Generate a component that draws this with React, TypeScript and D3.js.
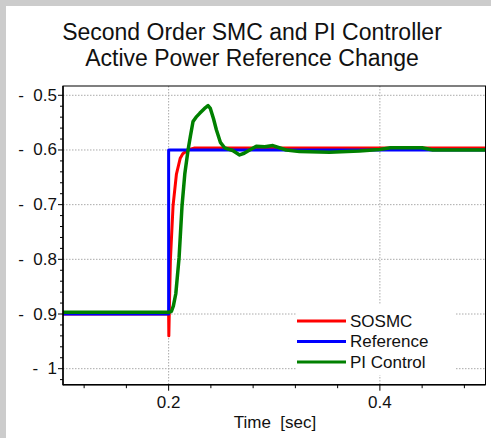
import * as d3 from 'd3';

const W = 491;
const H = 438;

// time [sec], value
const REF_T = [0.1, 0.2, 0.2, 0.5];
const REF_V = [-0.9, -0.9, -0.6, -0.6];

const SMC_T = [0.1, 0.2, 0.2002, 0.2008, 0.2017, 0.2042, 0.2074, 0.211, 0.2134, 0.2181, 0.2247, 0.5];
const SMC_V = [-0.9, -0.9, -0.94, -0.88, -0.8, -0.702, -0.644, -0.615, -0.607, -0.6, -0.5965, -0.5965];

const PI_T = [
  0.1, 0.2, 0.2027, 0.2045, 0.2068, 0.2099, 0.2127, 0.2153, 0.2184, 0.2206, 0.2231, 0.226, 0.2294,
  0.234, 0.2373, 0.2395, 0.2425, 0.2452, 0.249, 0.253, 0.2606, 0.2672, 0.2715, 0.2767, 0.283, 0.291,
  0.2987, 0.3113, 0.3239, 0.3522, 0.3806, 0.4, 0.41, 0.44, 0.45, 0.5,
];
const PI_V = [
  -0.897, -0.897, -0.895, -0.885, -0.863, -0.797, -0.702, -0.644, -0.6, -0.575, -0.548, -0.54, -0.533,
  -0.524, -0.519, -0.524, -0.543, -0.563, -0.586, -0.596, -0.601, -0.609, -0.606, -0.6, -0.593, -0.594,
  -0.592, -0.6, -0.603, -0.604, -0.602, -0.599, -0.596, -0.596, -0.6, -0.6,
];

const X_TICKS = [0.2, 0.4];
const X_MINOR = [0.12, 0.16, 0.24, 0.28, 0.32, 0.36, 0.44, 0.48];
const Y_TICKS = [-0.5, -0.6, -0.7, -0.8, -0.9, -1];
const Y_MINOR = d3.range(-1.02, -0.49, 0.02).filter((v) => Math.abs(v * 10 - Math.round(v * 10)) > 0.01);

const SERIES = [
  { name: 'SOSMC', color: '#ff0000', t: SMC_T, v: SMC_V, w: 3 },
  { name: 'Reference', color: '#0000ff', t: REF_T, v: REF_V, w: 3 },
  { name: 'PI Control', color: '#008000', t: PI_T, v: PI_V, w: 3.5 },
];

const FONT = 'Arial, "Liberation Sans", sans-serif';

export default function App() {
  const left = 63;
  const right = 485.5;
  const top = 86;
  const bottom = 384.7;

  const x = d3.scaleLinear().domain([0.1, 0.5]).range([left, right]);
  const y = d3.scaleLinear().domain([-1.0293, -0.483]).range([bottom, top]);

  const path = (t: number[], v: number[]) =>
    d3
      .line<number>()
      .x((_, i) => x(t[i]))
      .y((_, i) => y(v[i]))(t) ?? '';

  return (
    <svg width={W} height={H} style={{ position: 'absolute', left: 0, top: 0, fontFamily: FONT }}>
      <rect x={0} y={0} width={W} height={H} fill="#cccccc" />
      <rect x={6} y={6} width={W - 6} height={H - 6} fill="#ffffff" />

      <text x={252} y={39.5} textAnchor="middle" fontSize={23} fill="#111">
        Second Order SMC and PI Controller
      </text>
      <text x={252} y={65.5} textAnchor="middle" fontSize={23} fill="#111">
        Active Power Reference Change
      </text>

      <defs>
        <clipPath id="plot">
          <rect x={left} y={top} width={right - left} height={bottom - top} />
        </clipPath>
      </defs>

      {/* grid */}
      <g stroke="#aaaaaa" strokeWidth={1} strokeDasharray="1.5,1.5">
        {X_TICKS.map((d) => (
          <line key={d} x1={x(d)} x2={x(d)} y1={top} y2={bottom} />
        ))}
        {Y_TICKS.map((d) => (
          <line key={d} x1={left} x2={right} y1={y(d)} y2={y(d)} />
        ))}
      </g>

      {/* legend box */}
      <rect x={297} y={305} width={158} height={70} fill="#ffffff" />

      <g clipPath="url(#plot)" fill="none" strokeLinejoin="round">
        {SERIES.map((s) => (
          <path key={s.name} d={path(s.t, s.v)} stroke={s.color} strokeWidth={s.w} />
        ))}
      </g>

      {/* legend */}
      {SERIES.map((s, i) => (
        <g key={s.name}>
          <line x1={297} x2={346} y1={321 + i * 20.5} y2={321 + i * 20.5} stroke={s.color} strokeWidth={3} />
          <text x={350} y={321 + i * 20.5} dominantBaseline="central" fontSize={17} fill="#111">
            {s.name}
          </text>
        </g>
      ))}

      {/* frame */}
      <rect x={left} y={top} width={right - left} height={bottom - top} fill="none" stroke="#000" strokeWidth={1} />
      <line x1={left} x2={left} y1={top} y2={bottom + 0.5} stroke="#000" strokeWidth={1.5} />
      <line x1={left} x2={right} y1={bottom} y2={bottom} stroke="#000" strokeWidth={1.5} />

      {/* ticks */}
      <g stroke="#000" strokeWidth={1}>
        {Y_TICKS.map((d) => (
          <line key={d} x1={left - 5} x2={left} y1={y(d)} y2={y(d)} />
        ))}
        {Y_MINOR.map((d) => (
          <line key={d} x1={left - 3} x2={left} y1={y(d)} y2={y(d)} />
        ))}
        {X_TICKS.map((d) => (
          <line key={d} x1={x(d)} x2={x(d)} y1={bottom} y2={bottom + 6} />
        ))}
        {X_MINOR.map((d) => (
          <line key={d} x1={x(d)} x2={x(d)} y1={bottom} y2={bottom + 3.5} />
        ))}
      </g>

      {Y_TICKS.map((d) => (
        <text
          key={d}
          x={57}
          y={y(d)}
          textAnchor="end"
          dominantBaseline="central"
          fontSize={17}
          fill="#111"
          style={{ whiteSpace: 'pre' }}
        >
          {`-  ${d3.format('')(Math.abs(d))}`}
        </text>
      ))}

      {X_TICKS.map((d) => (
        <text key={d} x={x(d)} y={407.5} textAnchor="middle" fontSize={17} fill="#111">
          {d3.format('.1f')(d)}
        </text>
      ))}

      <text x={275} y={428} textAnchor="middle" fontSize={17} fill="#111" style={{ whiteSpace: 'pre' }}>
        {'Time  [sec]'}
      </text>
    </svg>
  );
}
